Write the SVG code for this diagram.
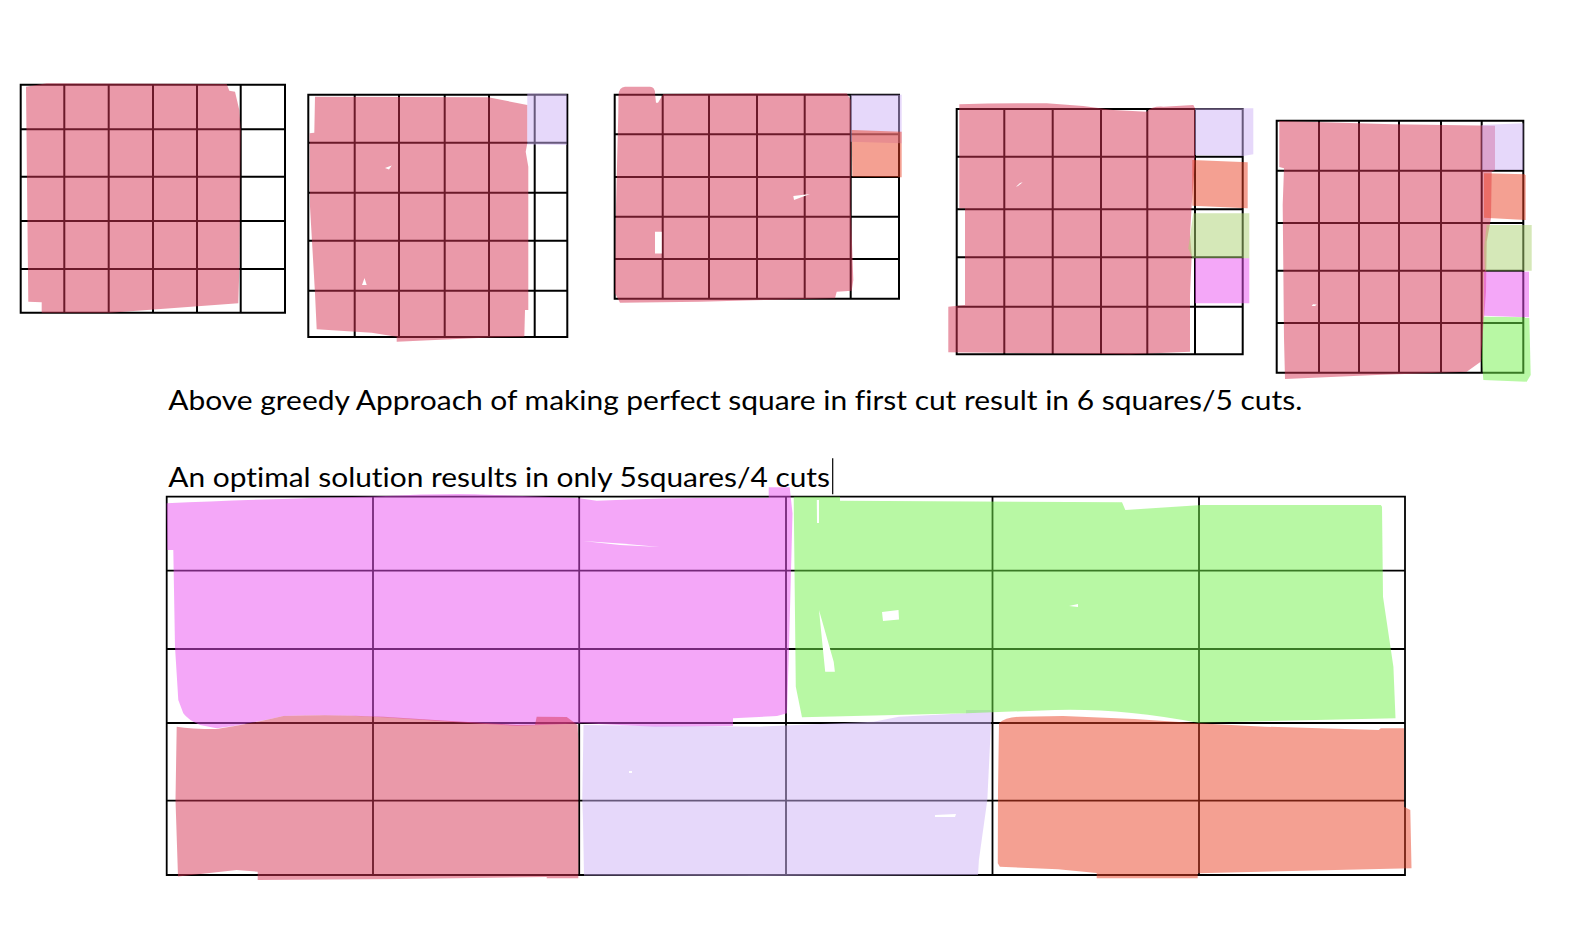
<svg xmlns="http://www.w3.org/2000/svg" width="1586" height="934" viewBox="0 0 1586 934">
<style>
.g{fill:none;stroke:#000;stroke-width:2}
.gb{fill:none;stroke:#000;stroke-width:1.8}
.rose{fill:#d63454;fill-opacity:.5}
.lav{fill:#cdb1f5;fill-opacity:.5}
.sal{fill:#e94125;fill-opacity:.5}
.oli{fill:#abd171;fill-opacity:.5}
.mag{fill:#e94ff1;fill-opacity:.5}
.grn{fill:#71f149;fill-opacity:.5}
.hole{fill:#fff}
.t{font-family:Lato,"Liberation Sans",sans-serif;font-size:26px;fill:#000;font-variant-ligatures:none;font-feature-settings:"liga" 0}
</style>
<rect width="1586" height="934" fill="#fff"/>

<g id="grid1">
<path class="g" d="M20.7 84.7H285V312.7H20.7Z M64.3 84.7V312.7 M108.7 84.7V312.7 M153 84.7V312.7 M197 84.7V312.7 M240.7 84.7V312.7 M20.7 129.3H285 M20.7 176.7H285 M20.7 221H285 M20.7 269H285"/>
<path class="rose" d="M26 86.7 L46.7 83.3 L226.7 84 L229.3 90.7 L235 91.7 L239.3 110 L240.7 130 L239.3 270 L238.3 303.3 L110 312.7 L41.7 312.7 L41.7 302.3 L28.3 301.7 Z"/>
</g>

<g id="grid2">
<path class="g" d="M308.3 94.7H567.3V337H308.3Z M354.7 94.7V337 M399 94.7V337 M444.7 94.7V337 M489 94.7V337 M534.7 94.7V337 M308.3 142.7H567.3 M308.3 192.7H567.3 M308.3 240.7H567.3 M308.3 290.7H567.3"/>
<path class="rose" d="M315 96.7 L488.3 97.3 L527.3 105 L527.3 143.3 L525.7 151.7 L528.3 166.7 L528.3 310 L525 310 L524.3 336.7 L495 337.3 L396.7 341.7 L396.7 336.7 L371.7 332.7 L316.7 329.3 L315 293.3 L310 206.7 L309.7 143.3 L309.7 133.3 L314.3 132.7 Z"/>
<path class="hole" d="M385 168 L391.7 165.5 L389 169.5 Z M362 285 L364.5 278 L366.7 285 Z"/>
<path class="lav" d="M527.3 93.3 L566.7 94 L566.7 145 L527.3 144.5 Z"/>
</g>

<g id="grid3">
<path class="g" d="M614.7 94.7H899V298.7H614.7Z M662.7 94.7V298.7 M709 94.7V298.7 M757 94.7V298.7 M804.7 94.7V298.7 M850.7 94.7V298.7 M614.7 134.3H899 M614.7 177H899 M614.7 216.7H899 M614.7 259H899"/>
<path class="rose" d="M618.5 95 Q619 87 625 86.7 L650 86.7 Q655 87 655 93.3 L656 102.7 L658 102.7 L663.3 94 L750 93.3 L846.7 93.3 L850.7 100 L850.7 206.7 L853.3 280 L851.7 290.7 L836.7 291.7 L835 298.3 L766.7 300 L700 301.7 L620 302.7 L615 293.3 L616 206.7 L618.3 113.3 Z"/>
<path class="hole" d="M655 231.7h6.7v21.7h-6.7Z M793.3 196 L810 194 L794 200 Z"/>
<path class="lav" d="M850.7 94.7 L901.7 94.7 L901.7 143.3 L850.7 141.7 Z"/>
<path class="sal" d="M851.7 130 L901.7 131.7 L901.7 177.3 L852.3 176.7 Z"/>
</g>

<g id="grid4">
<path class="g" d="M956.7 109H1242.7V354.3H956.7Z M1004.3 109V354.3 M1052.7 109V354.3 M1101 109V354.3 M1147.3 109V354.3 M1195 109V354.3 M956.7 156.7H1242.7 M956.7 209.3H1242.7 M956.7 257.3H1242.7 M956.7 306.7H1242.7"/>
<path class="rose" d="M959.3 104.3 Q1000 103 1046.7 103.3 Q1080 105 1113.3 110 L1146.7 111.7 Q1152 106 1163.3 106.7 L1193.3 105 L1195 108.3 L1195 161.7 L1191.7 205 L1190 235 L1191.7 255 L1190 295 L1190 351.7 L1130 354.3 L948.3 352.3 L948.3 306.7 L965 305 L965 208.3 L959.3 208.3 Z"/>
<path class="hole" d="M1016 186.7 L1020 183 L1022.7 182.3 L1018 186 Z"/>
<path class="lav" d="M1195 108.3 L1253.3 108.3 L1253.3 154.3 L1243.3 156 L1195 155 Z"/>
<path class="sal" d="M1192.3 160 L1247.7 162.3 L1247.7 208.3 L1192.3 205.7 Z"/>
<path class="oli" d="M1193.3 213.3 L1249.3 213.3 L1249.3 258.3 L1192.3 258.3 L1188.3 248.3 Z"/>
<path class="mag" d="M1195 258.3 L1249.3 258.3 L1249.3 303.3 L1195 303.3 Z"/>
</g>

<g id="grid5">
<path class="g" d="M1276.7 120.7H1523.3V372.7H1276.7Z M1319 120.7V372.7 M1359 120.7V372.7 M1399 120.7V372.7 M1441 120.7V372.7 M1481.7 120.7V372.7 M1276.7 170.7H1523.3 M1276.7 223H1523.3 M1276.7 270.7H1523.3 M1276.7 323H1523.3"/>
<path class="rose" d="M1279.3 121 L1393.3 124.3 L1495 125.7 L1495 170 L1491.7 171.7 L1491 218.3 L1486.7 241.7 L1486 291.7 L1480.7 361.7 L1466.7 371.7 L1376.7 375 L1285 379 L1284 338.3 L1282.7 205 L1284 168.3 L1279.3 167 Z"/>
<path class="hole" d="M1311.7 306 L1313 304.3 L1316.7 304.5 L1315 306 Z"/>
<path class="lav" d="M1481.7 125 L1523.3 123.3 L1523.3 170 L1481.7 170 Z"/>
<path class="sal" d="M1484 173.3 L1525.7 174.3 L1525.7 220 L1484 217.7 Z"/>
<path class="oli" d="M1486.7 225 L1531.7 225 L1531.7 270.7 L1485 270.7 L1484 248.3 Z"/>
<path class="mag" d="M1484 271.7 L1529 271.7 L1529 317.3 L1484 315.7 Z"/>
<path class="grn" d="M1483.3 316.7 L1529.3 317.3 L1530.7 375 L1526.7 381.7 L1483.3 380 L1481.7 358.3 Z"/>
</g>

<g id="caption1">
<text class="t" x="168.3" y="410" textLength="1134" lengthAdjust="spacingAndGlyphs">Above greedy Approach of making perfect square in first cut result in 6 squares/5 cuts.</text>
</g>

<g id="caption2">
<text class="t" x="168.3" y="487" textLength="661.7" lengthAdjust="spacingAndGlyphs">An optimal solution results in only 5squares/4 cuts</text>
<line x1="832.7" y1="458.3" x2="832.7" y2="494.3" stroke="#000" stroke-width="1.2"/>
</g>

<g id="optimal">
<path class="gb" d="M166.7 496.7H1405V875H166.7Z M373 496.7V875 M579.2 496.7V875 M786 496.7V875 M992.5 496.7V875 M1199 496.7V875 M166.7 570.7H1405 M166.7 649H1405 M166.7 723H1405 M166.7 800.7H1405"/>
<path class="mag" d="M166.7 503.3 Q260 499 372.7 496.5 Q450 493 480 494.5 Q530 496 579 498.3 L596.7 500.7 Q680 497 768.7 498 L768.7 487.3 L789.7 487.3 L792.5 513.3 L789 646.7 L787 713.3 L777 716 L733 718.3 L733 726 L655 726.7 L583.5 723.3 L516.7 726 Q450 722 383.3 717.3 Q330 714 283.3 716 Q250 724 216.7 728.3 L200 725 Q188 720 183.3 713.3 L178.3 700 L175 646.7 L173.3 550 L167.3 550 Z"/>
<path class="hole" d="M583 541 Q620 543 660 547 L620 545 Z"/>
<path class="rose" d="M176.7 726.7 Q190 729 216.7 729 Q250 724 283.3 716 Q330 714 383.3 716.7 Q450 721 516.7 725 L535 724.7 L536.7 716.7 L566.7 717 L577.6 725 L578.3 740 L578.3 878.3 L546.7 878.3 L546.7 877 L400 879 L257.7 880 L257.7 871.7 L236.7 870 L178 876.5 L175.5 800 Z"/>
<path class="lav" d="M583.5 725 L760 726.7 L873.6 721.7 L899 716.7 L966 713.3 L966 710 L991.5 710 L991.5 713.3 L987.3 800 L978.9 860 L978 875 L760 876 L584 875.5 L583 820 L582.3 800 Z"/>
<path class="hole" d="M629 771 L632 771 L632 773 L629 773 Z M935 815 L956 814 L955 817 L935 817 Z"/>
<path class="grn" d="M793.7 496.7 L840 496.7 L840 500.7 L1122 502.3 L1125.3 510 L1202 505 L1380.8 505 L1382 506.7 L1383 596.7 L1393.4 666.7 L1395.5 718.3 L1197.7 722.7 Q1120 708 1054.6 710 L966.2 713.3 L802 717.3 L795.8 686.7 Z"/>
<path class="hole" d="M816.8 500 L819 500 L819 523 L817 523 Z M819 610 L825.2 671.7 L834.9 671.7 L833.7 661.7 Z M882 612 L898.5 610 L899 619.5 L883 621 Z M1069 606 L1078 604 L1078 607 Z"/>
<path class="sal" d="M999 723.3 Q1005 717 1021 716.7 L1063 716 Q1130 718 1197.7 723.3 L1265 726.7 L1378.7 730 L1380.8 728.3 L1404 728.3 L1404 806.7 L1410.3 810 L1411.5 868.3 L1197.7 873.3 L1197.7 878.3 L1096.7 878.3 L1096.7 873 L1058 869.3 L999.9 866.7 L997.8 863.3 L998 790 Z"/>
</g>
</svg>
